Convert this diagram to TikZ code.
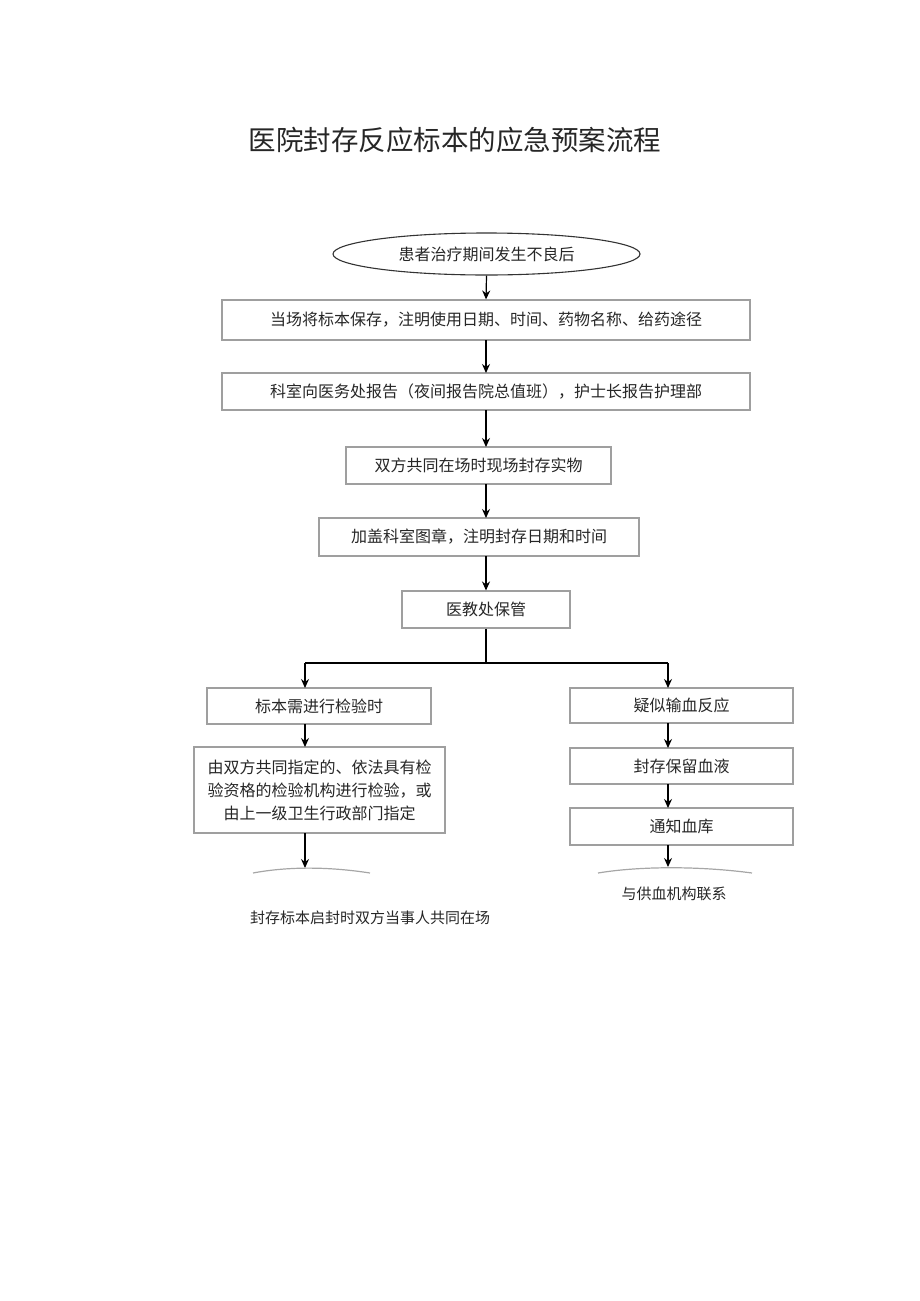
\documentclass[tikz,border=0pt]{standalone}
\usepackage{fontspec}
\setmainfont{Noto Sans CJK SC}
\usetikzlibrary{shapes.geometric,arrows.meta}
\begin{document}
\begin{tikzpicture}[x=1pt,y=-1pt,
  box/.style={draw=gray!75,line width=1.1pt,inner sep=0pt,font=\fontsize{16}{23}\selectfont,text=black!85},
  arr/.style={-{Stealth[length=9pt,width=8pt]},line width=1.2pt,black},
  ln/.style={line width=1.2pt,black},
  cut/.style={draw=gray!70,line width=1.2pt}]
\useasboundingbox (0,0) rectangle (920,1301);
\node[font=\fontsize{27.5}{32}\selectfont,text=black!85] (title) at (455,140) {医院封存反应标本的应急预案流程};
\node[box,ellipse,minimum width=307pt,minimum height=42pt,draw=black!80] (e) at (486.5,254) {患者治疗期间发生不良后};
\node[box,minimum width=528pt,minimum height=40pt] (b1) at (486,320) {当场将标本保存，注明使用日期、时间、药物名称、给药途径};
\node[box,minimum width=528pt,minimum height=37pt] (b2) at (486,391.5) {科室向医务处报告（夜间报告院总值班），护士长报告护理部};
\node[box,minimum width=265pt,minimum height=37pt] (b3) at (478.5,465.5) {双方共同在场时现场封存实物};
\node[box,minimum width=320pt,minimum height=38pt] (b4) at (479,537) {加盖科室图章，注明封存日期和时间};
\node[box,minimum width=168pt,minimum height=37pt] (b5) at (486,609.5) {医教处保管};
\node[box,minimum width=224pt,minimum height=36pt] (l1) at (319,706) {标本需进行检验时};
\node[box,minimum width=251pt,minimum height=86pt,align=center] (l2) at (319.5,790) {由双方共同指定的、依法具有检\\验资格的检验机构进行检验，或\\由上一级卫生行政部门指定};
\node[box,minimum width=223pt,minimum height=35pt] (r1) at (681.5,705.5) {疑似输血反应};
\node[box,minimum width=223pt,minimum height=36pt] (r2) at (681.5,766) {封存保留血液};
\node[box,minimum width=223pt,minimum height=37pt] (r3) at (681.5,826.5) {通知血库};
\coordinate (lend) at (305,868);
\coordinate (rend) at (668,867);
\coordinate (split) at (486,663);
\coordinate (sl) at (305,663);
\coordinate (sr) at (668,663);
\draw[arr] (e.south) -- (b1.north);
\draw[arr] (486,340) -- (486,373);
\draw[arr] (486,410) -- (486,447);
\draw[arr] (486,484) -- (486,518);
\draw[arr] (486,556) -- (b5.north);
\draw[ln] (b5.south) -- (split);
\draw[ln] (sl) -- (sr);
\draw[arr] (sl) -- (305,688);
\draw[arr] (sr) -- (668,688);
\draw[arr] (305,724) -- (305,747);
\draw[arr] (668,723) -- (668,748);
\draw[arr] (668,784) -- (668,808);
\draw[arr] (305,833) -- (lend);
\draw[arr] (668,845) -- (rend);
\draw[cut] (253,873) .. controls (285,867) and (325,866) .. (370,873);
\draw[cut] (598,873) .. controls (640,866) and (700,866) .. (752,873);
\node[font=\fontsize{15}{19}\selectfont,text=black!85] (t1) at (674,894) {与供血机构联系};
\node[font=\fontsize{15}{19}\selectfont,text=black!85] (t2) at (370,918) {封存标本启封时双方当事人共同在场};
\end{tikzpicture}
\end{document}
